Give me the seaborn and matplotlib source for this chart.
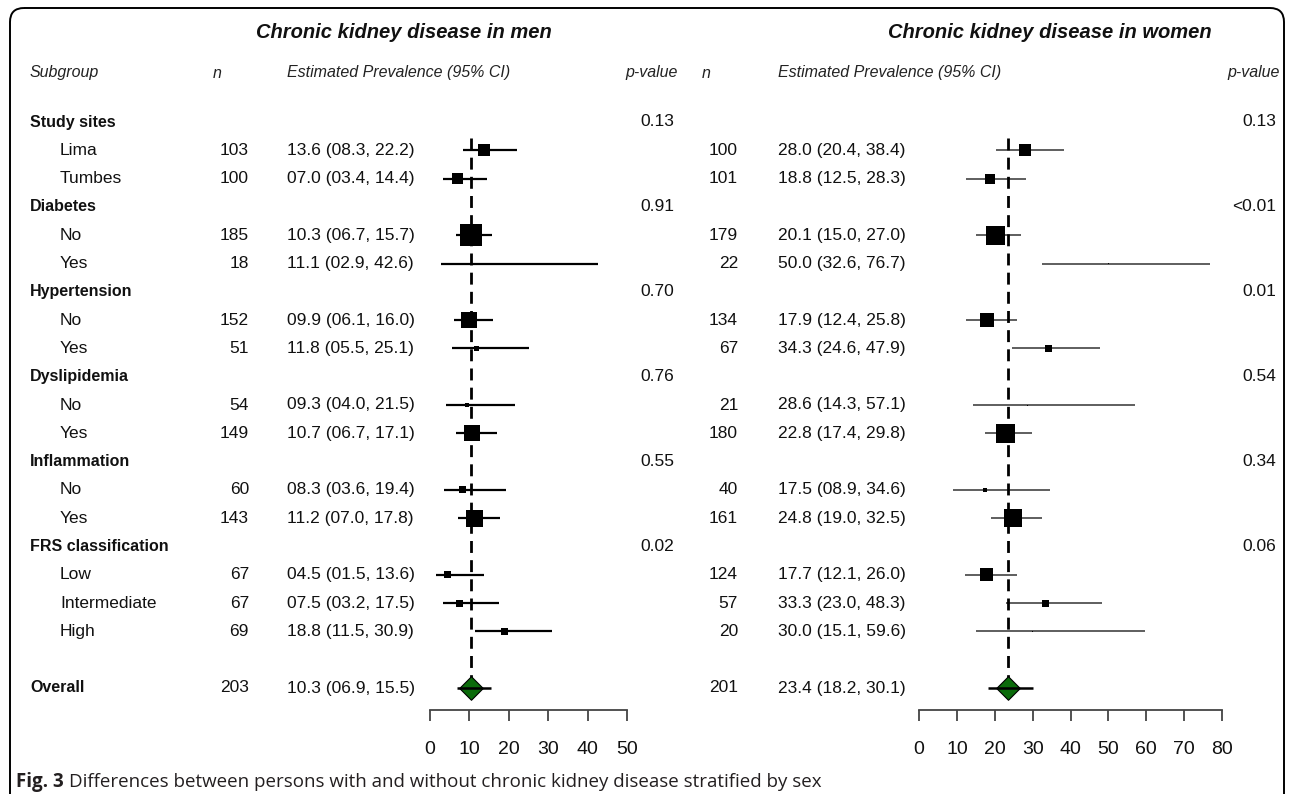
import numpy as np
import pandas as pd
import matplotlib
matplotlib.use("Agg")
import matplotlib.pyplot as plt
from matplotlib.patches import FancyBboxPatch
import seaborn as sns

sns.set_theme(style="white")
plt.rcParams['font.family'] = ['Liberation Sans', 'DejaVu Sans']

# table rows
groups = ["Study sites", "Diabetes", "Hypertension", "Dyslipidemia", "Inflammation", "FRS classification"]
levels = [["Lima", "Tumbes"], ["No", "Yes"], ["No", "Yes"], ["No", "Yes"], ["No", "Yes"],
          ["Low", "Intermediate", "High"]]

# men
men_n = [103, 100, 185, 18, 152, 51, 54, 149, 60, 143, 67, 67, 69]
men_est = [13.6, 7.0, 10.3, 11.1, 9.9, 11.8, 9.3, 10.7, 8.3, 11.2, 4.5, 7.5, 18.8]
men_lo = [8.3, 3.4, 6.7, 2.9, 6.1, 5.5, 4.0, 6.7, 3.6, 7.0, 1.5, 3.2, 11.5]
men_hi = [22.2, 14.4, 15.7, 42.6, 16.0, 25.1, 21.5, 17.1, 19.4, 17.8, 13.6, 17.5, 30.9]
men_weight = [12, 11, 22, 1, 16, 5, 4, 16, 7, 17, 7, 7, 7]  # box weight
men_p = ["0.13", "0.91", "0.70", "0.76", "0.55", "0.02"]
men_overall = [203, 10.3, 6.9, 15.5]

# women
women_n = [100, 101, 179, 22, 134, 67, 21, 180, 40, 161, 124, 57, 20]
women_est = [28.0, 18.8, 20.1, 50.0, 17.9, 34.3, 28.6, 22.8, 17.5, 24.8, 17.7, 33.3, 30.0]
women_lo = [20.4, 12.5, 15.0, 32.6, 12.4, 24.6, 14.3, 17.4, 8.9, 19.0, 12.1, 23.0, 15.1]
women_hi = [38.4, 28.3, 27.0, 76.7, 25.8, 47.9, 57.1, 29.8, 34.6, 32.5, 26.0, 48.3, 59.6]
women_weight = [12, 10, 19, 1, 14, 7, 1, 19, 4, 18, 13, 7, 1]
women_p = ["0.13", "<0.01", "0.01", "0.54", "0.34", "0.06"]
women_overall = [201, 23.4, 18.2, 30.1]

men_ticks = [0, 10, 20, 30, 40, 50]
women_ticks = [0, 10, 20, 30, 40, 50, 60, 70, 80]

# layout (pixels)
W, H = 1292, 794
ROW0, ROWH = 122, 28.3
AX_TOP, AX_BOT = 108, 710

# row index of each header / level
header_rows, level_rows, level_names = [], [], []
r = 0
for g, lv in zip(groups, levels):
    header_rows.append(r)
    r += 1
    for name in lv:
        level_rows.append(r)
        level_names.append(name)
        r += 1
overall_row = r + 1


def ypx(row):
    return ROW0 + row * ROWH


fig = plt.figure(figsize=(W / 100, H / 100), dpi=100)
bg = fig.add_axes([0, 0, 1, 1])
bg.set_xlim(0, W)
bg.set_ylim(H, 0)
bg.axis("off")

bg.add_patch(FancyBboxPatch((10, 8), W - 18, H + 40,
                            boxstyle="round,pad=0,rounding_size=14",
                            fc="none", ec="black", lw=1.4, clip_on=False))

txt = dict(fontsize=12.5, color="#111", va="center")
bold = dict(fontsize=11.5, color="#111", va="center", fontweight="bold")
hdr = dict(fontsize=11.5, color="#222", va="center", style="italic")

# subgroup column
bg.text(30, 73, "Subgroup", ha="left", **hdr)
for g, rr in zip(groups, header_rows):
    bg.text(30, ypx(rr), g, ha="left", **bold)
for name, rr in zip(level_names, level_rows):
    bg.text(60, ypx(rr), name, ha="left", **txt)
bg.text(30, ypx(overall_row), "Overall", ha="left", **bold)


def columns(x_n, x_ci, x_p, x_title, title, n, est, lo, hi, p, overall):
    bg.text(x_title, 33, title, ha="center", va="center", fontsize=14.5,
            fontweight="bold", style="italic", color="#111")
    bg.text(x_n - 36, 73, "n", ha="left", **hdr)
    bg.text(x_ci, 73, "Estimated Prevalence (95% CI)", ha="left", **hdr)
    bg.text(x_p + 4, 73, "p-value", ha="right", **hdr)
    for i, rr in enumerate(level_rows):
        bg.text(x_n, ypx(rr), str(n[i]), ha="right", **txt)
        bg.text(x_ci, ypx(rr), f"{est[i]:04.1f} ({lo[i]:04.1f}, {hi[i]:04.1f})", ha="left", **txt)
    for pv, rr in zip(p, header_rows):
        bg.text(x_p, ypx(rr), pv, ha="right", **txt)
    bg.text(x_n, ypx(overall_row), str(overall[0]), ha="right", **txt)
    bg.text(x_ci, ypx(overall_row),
            f"{overall[1]:04.1f} ({overall[2]:04.1f}, {overall[3]:04.1f})", ha="left", **txt)


columns(249, 287, 674, 404, "Chronic kidney disease in men",
        men_n, men_est, men_lo, men_hi, men_p, men_overall)
columns(738, 778, 1276, 1050, "Chronic kidney disease in women",
        women_n, women_est, women_lo, women_hi, women_p, women_overall)


def forest(x0, x1, est, lo, hi, weight, overall, ticks, lcolor, lw):
    ax = fig.add_axes([x0 / W, 1 - AX_BOT / H, (x1 - x0) / W, (AX_BOT - AX_TOP) / H])
    ax.set_facecolor("none")
    top = (AX_TOP - ROW0) / ROWH
    bot = (AX_BOT - ROW0) / ROWH
    df = pd.DataFrame({"est": est, "lo": lo, "hi": hi, "row": level_rows,
                       "area": [(w * 0.72) ** 2 for w in weight]})
    ax.hlines(df["row"], df["lo"], df["hi"], color=lcolor, lw=lw, zorder=2, clip_on=False)
    amin, amax = df["area"].min(), df["area"].max()
    sns.scatterplot(data=df, x="est", y="row", size="area", sizes=(amin, amax),
                    size_norm=(amin, amax), marker="s", color="black", linewidth=0,
                    legend=False, ax=ax, zorder=3, clip_on=False)
    # reference line at the overall estimate
    ax.plot([overall[1], overall[1]], [0.55, overall_row], color="black", lw=2,
            dashes=(4.3, 2.6), zorder=4, clip_on=False)
    ax.scatter([overall[1]], [overall_row], marker="D", s=12 ** 2, color="#0b6b0b",
               edgecolor="black", lw=0.8, zorder=5, clip_on=False)
    ax.hlines([overall_row], overall[2], overall[3], color="black", lw=1.8, zorder=6, clip_on=False)

    ax.set_xlim(ticks[0], ticks[-1])
    ax.set_ylim(bot, top)
    ax.set_xticks(ticks)
    ax.set_yticks([])
    ax.set_xlabel("")
    ax.set_ylabel("")
    for s in ["left", "top", "right"]:
        ax.spines[s].set_visible(False)
    ax.spines["bottom"].set_color("#444")
    ax.spines["bottom"].set_linewidth(1.3)
    ax.tick_params(axis="x", bottom=True, direction="out", length=8, width=1.3,
                   color="#444", labelsize=14, labelcolor="#111", pad=14)
    return ax


forest(430, 627, men_est, men_lo, men_hi, men_weight, men_overall, men_ticks, "black", 1.6)
forest(919, 1222, women_est, women_lo, women_hi, women_weight, women_overall, women_ticks, "#333", 1.1)

# caption
cap = dict(fontsize=13.5, color="#231f20", va="center", family=["Open Sans", "DejaVu Sans"])
t1 = bg.text(16, 782, "Fig. 3", ha="left", fontweight="bold", **cap)
renderer = fig.canvas.get_renderer()
bb = t1.get_window_extent(renderer)
bg.text(16 + bb.width + 5, 782,
        "Differences between persons with and without chronic kidney disease stratified by sex",
        ha="left", **cap)

fig.savefig("out.png", dpi=100)
